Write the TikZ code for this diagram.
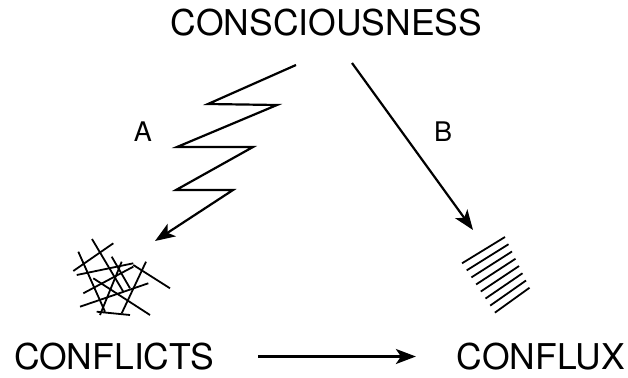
\documentclass[tikz,border=0pt]{standalone}
\usepackage{fontspec}
\setmainfont{TeX Gyre Heros}
\usetikzlibrary{arrows.meta}

\begin{document}
\begin{tikzpicture}[x=1pt,y=-1pt,line width=2.2pt,font=\fontsize{35.5}{40}\selectfont,
  tip/.style={-{Stealth[length=20pt,width=15pt,inset=5pt]}}]
  \useasboundingbox (0,0) rectangle (628,377);
  \node[inner sep=0] (consc) at (326.5,23) {CONSCIOUSNESS};
  \node[inner sep=0] (conflicts) at (114,356.5) {CONFLICTS};
  \node[inner sep=0] (conflux) at (541,356.5) {CONFLUX};
  \coordinate (atop) at (296,65);
  \coordinate (aend) at (155,241);
  \coordinate (btop) at (352,63);
  \coordinate (bend) at (473,230);

  \draw[tip,line join=miter] (atop) -- (208,104) -- (277,105) -- (177,147) -- (253,147)
    -- (176,190) -- (233,190) -- (aend);
  \draw[tip] (btop) -- (bend);
  \draw[tip,shorten <=43pt,shorten >=40pt] (conflicts) -- (conflux);

  \node[font=\fontsize{27}{30}\selectfont] (alabel) at (143,132) {A};
  \node[font=\fontsize{27}{30}\selectfont] (blabel) at (443,132) {B};

  \begin{scope}[line width=1.8pt]
    \draw (92,239) -- (123.3,291.7);
    \draw (113.3,243.3) -- (73.3,271);
    \draw (78.3,251.7) -- (105,311.7);
    \draw (76.7,275) -- (133.3,263.3);
    \draw (111.7,256.7) -- (130,288.3);
    \draw (121.7,261.7) -- (100,315);
    \draw (146,261.7) -- (121.7,313.3);
    \draw (133.3,265) -- (170,288.3);
    \draw (93.3,278.3) -- (150,315);
    \draw (80,306.7) -- (148.3,283.3);
    \draw (83.3,293.3) -- (133.3,266.7);
    \draw (96.7,311.7) -- (130,315);
    \foreach \i in {0,...,7}
      \draw (462+4.7*\i,263.3+7.05*\i) -- (505+3.5*\i,237+7.25*\i);
  \end{scope}
\end{tikzpicture}
\end{document}
